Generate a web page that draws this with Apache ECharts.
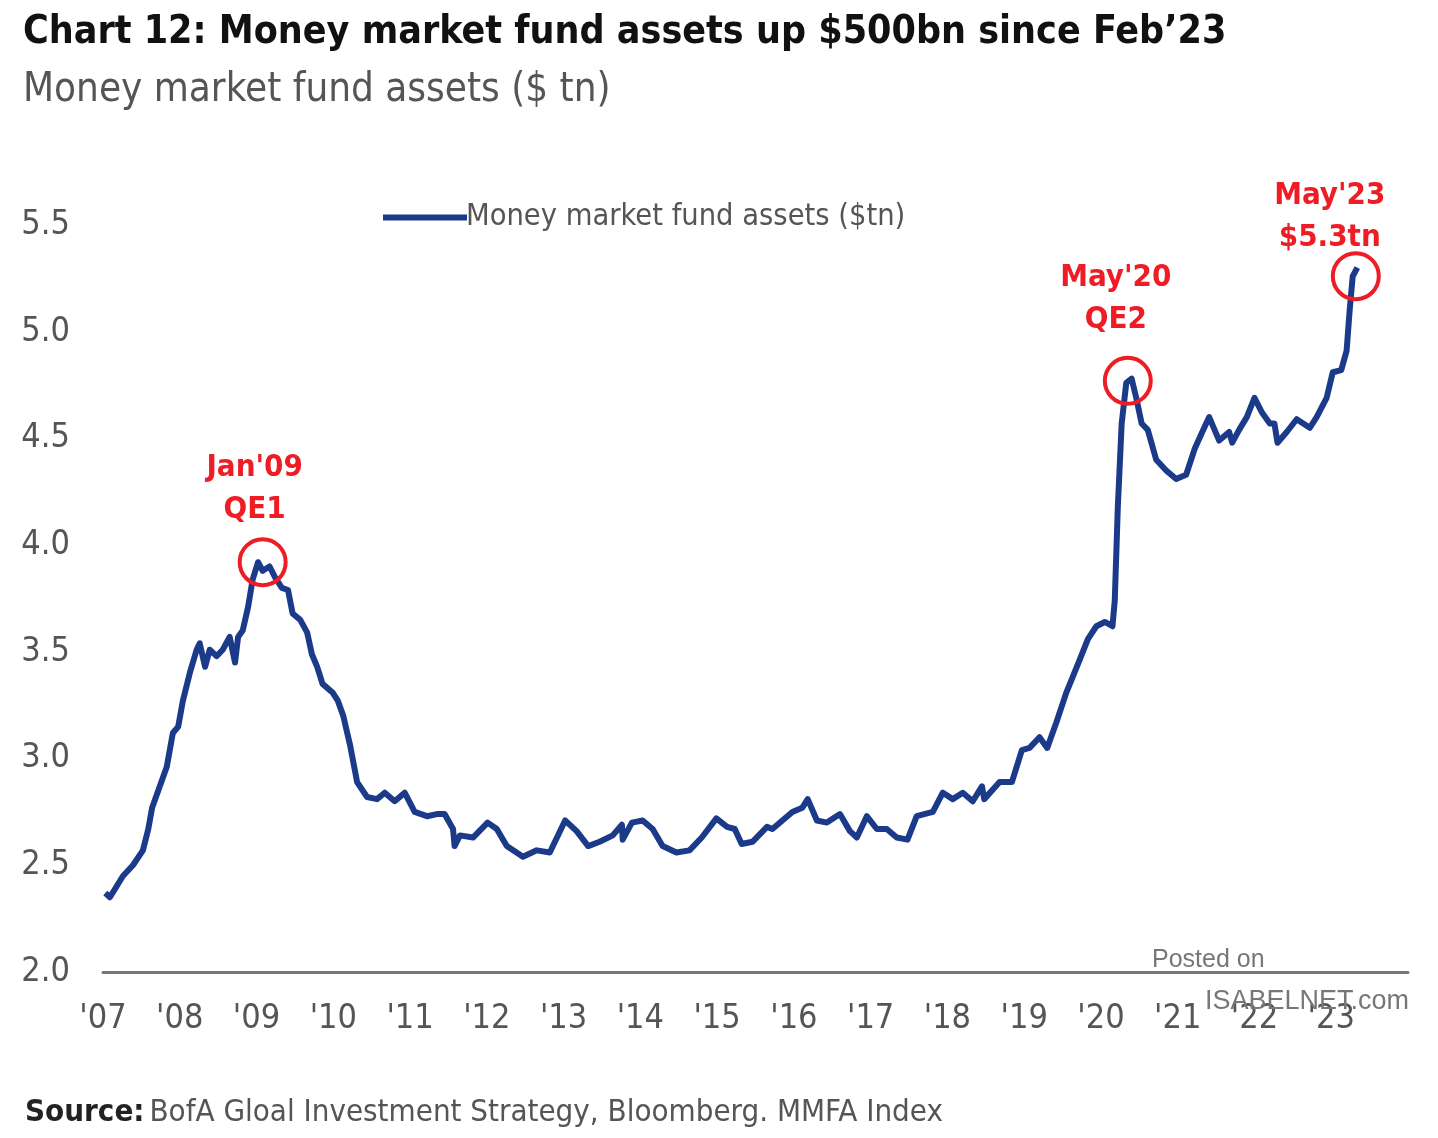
<!DOCTYPE html>
<html>
<head>
<meta charset="utf-8">
<script src="https://cdn.jsdelivr.net/npm/echarts@6/dist/echarts.min.js"></script>
<style>
html,body{margin:0;padding:0;background:#fff;}
#chart{width:1438px;height:1138px;}
</style>
</head>
<body>
<div id="chart"></div>
<script>
// Decimal years of observations
const years = [
  2007.03,2007.09,2007.26,2007.39,2007.52,2007.59,2007.64,2007.74,2007.83,2007.91,2007.98,
  2008.04,2008.13,2008.22,2008.26,2008.33,2008.39,2008.48,2008.56,2008.65,2008.72,2008.76,2008.82,2008.89,2008.95,
  2009.02,2009.08,2009.17,2009.24,2009.33,2009.41,2009.47,2009.57,2009.66,2009.72,2009.79,2009.86,2009.99,
  2010.06,2010.13,2010.22,2010.31,2010.44,2010.57,2010.67,2010.80,2010.93,
  2011.06,2011.22,2011.35,2011.45,2011.56,2011.58,2011.65,2011.82,
  2012.01,2012.13,2012.26,2012.47,2012.65,2012.82,
  2013.02,2013.17,2013.32,2013.47,2013.64,2013.76,2013.77,2013.89,
  2014.03,2014.16,2014.29,2014.47,2014.64,2014.80,2014.99,
  2015.13,2015.23,2015.32,2015.46,2015.65,2015.72,2015.85,2015.98,
  2016.11,2016.18,2016.30,2016.43,2016.60,2016.73,2016.82,2016.95,
  2017.08,2017.21,2017.34,2017.48,2017.60,2017.81,2017.94,
  2018.07,2018.20,2018.33,2018.45,2018.48,2018.68,2018.84,2018.97,
  2019.07,2019.20,2019.30,2019.42,2019.55,2019.63,2019.72,2019.83,2019.94,
  2020.05,2020.15,2020.18,2020.22,2020.27,2020.33,2020.40,2020.46,2020.53,2020.61,2020.72,2020.85,2020.98,
  2021.11,2021.22,2021.32,2021.41,2021.54,2021.67,2021.71,2021.80,2021.90,
  2022.00,2022.10,2022.20,2022.26,2022.30,2022.42,2022.55,2022.72,2022.81,2022.94,
  2023.02,2023.13,2023.20,2023.24,2023.28,2023.34
];
// Money market fund assets ($tn)
const assets = [
  2.37,2.35,2.45,2.50,2.57,2.67,2.77,2.87,2.96,3.12,3.15,
  3.27,3.40,3.51,3.54,3.43,3.51,3.48,3.51,3.57,3.45,3.57,3.60,3.71,3.84,
  3.92,3.88,3.90,3.85,3.80,3.79,3.68,3.65,3.59,3.49,3.43,3.35,3.31,
  3.27,3.20,3.06,2.89,2.82,2.81,2.84,2.80,2.84,
  2.75,2.73,2.74,2.74,2.67,2.59,2.64,2.63,
  2.70,2.67,2.59,2.54,2.57,2.56,
  2.71,2.66,2.59,2.61,2.64,2.69,2.62,2.70,
  2.71,2.67,2.59,2.56,2.57,2.63,2.72,
  2.68,2.67,2.60,2.61,2.68,2.67,2.71,2.75,
  2.77,2.81,2.71,2.70,2.74,2.66,2.63,2.73,
  2.67,2.67,2.63,2.62,2.73,2.75,2.84,
  2.81,2.84,2.80,2.87,2.81,2.89,2.89,3.04,
  3.05,3.10,3.05,3.17,3.31,3.38,3.46,3.56,3.62,
  3.64,3.62,3.74,4.18,4.57,4.76,4.78,4.69,4.57,4.54,4.40,4.35,4.31,
  4.33,4.45,4.53,4.60,4.49,4.53,4.48,4.54,4.60,
  4.69,4.62,4.57,4.57,4.48,4.53,4.59,4.55,4.60,4.69,
  4.81,4.82,4.91,5.10,5.26,5.30
];
// Annotations
const annotX = [2009.08, 2020.35, 2023.32];
const annotY = [3.92, 4.77, 5.26];
const annotText = ["Jan'09\nQE1", "May'20\nQE2", "May'23\n$5.3tn"];
const yTicks = [2.0, 2.5, 3.0, 3.5, 4.0, 4.5, 5.0, 5.5];

const NARROW = "'Liberation Sans Narrow','DejaVu Sans Condensed',sans-serif";
const RED = '#ee1c25';
const NAVY = '#1b3a8a';

const chart = echarts.init(document.getElementById('chart'));
const labelOffsets = [[-8, 0], [-12, -9], [-26, 14]];

chart.setOption({
  backgroundColor: '#ffffff',
  animation: false,
  title: [
    {
      text: 'Chart 12: Money market fund assets up $500bn since Feb\u201923',
      left: 18, top: 8,
      textStyle: { fontFamily: NARROW, fontWeight: 'bold', fontSize: 39, color: '#111' }
    },
    {
      text: 'Money market fund assets ($ tn)',
      left: 18, top: 66,
      textStyle: { fontFamily: NARROW, fontWeight: 'normal', fontSize: 40, color: '#555' }
    },
    {
      text: '{b|Source:} {n|BofA Gloal Investment Strategy, Bloomberg. MMFA Index}',
      left: 20, top: 1092,
      textStyle: {
        rich: {
          b: { fontFamily: NARROW, fontWeight: 'bold', fontSize: 31, color: '#222' },
          n: { fontFamily: NARROW, fontWeight: 'normal', fontSize: 31, color: '#555' }
        }
      }
    },
    {
      text: 'Posted on',
      left: 1147, top: 943,
      textStyle: { fontFamily: "'Liberation Sans',Arial,sans-serif", fontWeight: 'normal', fontSize: 25, color: '#777' }
    },
    {
      text: 'ISABELNET.com',
      left: 1200, top: 983,
      textStyle: { fontFamily: "'Liberation Sans',Arial,sans-serif", fontWeight: 'normal', fontSize: 27, color: '#777' }
    }
  ],
  legend: {
    left: 378, top: 197,
    itemWidth: 84, itemHeight: 6, itemGap: 0,
    icon: 'rect',
    textStyle: { fontFamily: NARROW, fontSize: 30.5, color: '#555', padding: [0, 0, 0, -6] },
    data: [{ name: 'Money market fund assets ($tn)', icon: 'rect' }]
  },
  grid: { left: 103, right: 30, top: 225, bottom: 166, containLabel: false },
  xAxis: {
    type: 'value',
    min: 2007, max: 2024, interval: 1,
    axisLine: { show: true, lineStyle: { color: '#777', width: 3 } },
    axisTick: { show: false },
    splitLine: { show: false },
    axisLabel: {
      margin: 30,
      fontFamily: NARROW, fontSize: 34, color: '#555',
      formatter: v => v >= 2024 ? '' : "'" + String(Math.round(v)).slice(2)
    }
  },
  yAxis: {
    type: 'value',
    min: yTicks[0], max: yTicks[yTicks.length - 1], interval: 0.5,
    axisLine: { show: false },
    axisTick: { show: false },
    splitLine: { show: false },
    axisLabel: {
      margin: 33,
      fontFamily: NARROW, fontSize: 34, color: '#555',
      formatter: v => v.toFixed(1)
    }
  },
  series: [{
    name: 'Money market fund assets ($tn)',
    type: 'line',
    data: years.map((y, i) => [y, assets[i]]),
    showSymbol: false,
    symbol: 'none',
    lineStyle: { color: NAVY, width: 6, join: 'round' },
    itemStyle: { color: NAVY },
    z: 3,
    markPoint: {
      symbol: 'circle',
      symbolSize: 46,
      itemStyle: { color: 'rgba(0,0,0,0)', borderColor: RED, borderWidth: 4 },
      data: annotX.map((x, i) => ({
        coord: [x, annotY[i]],
        value: annotText[i],
        label: {
          show: true, position: 'top', distance: 6,
          offset: labelOffsets[i],
          formatter: annotText[i],
          fontFamily: NARROW, fontWeight: 'bold', fontSize: 31, lineHeight: 42,
          color: RED
        }
      }))
    }
  }]
});
</script>
</body>
</html>
